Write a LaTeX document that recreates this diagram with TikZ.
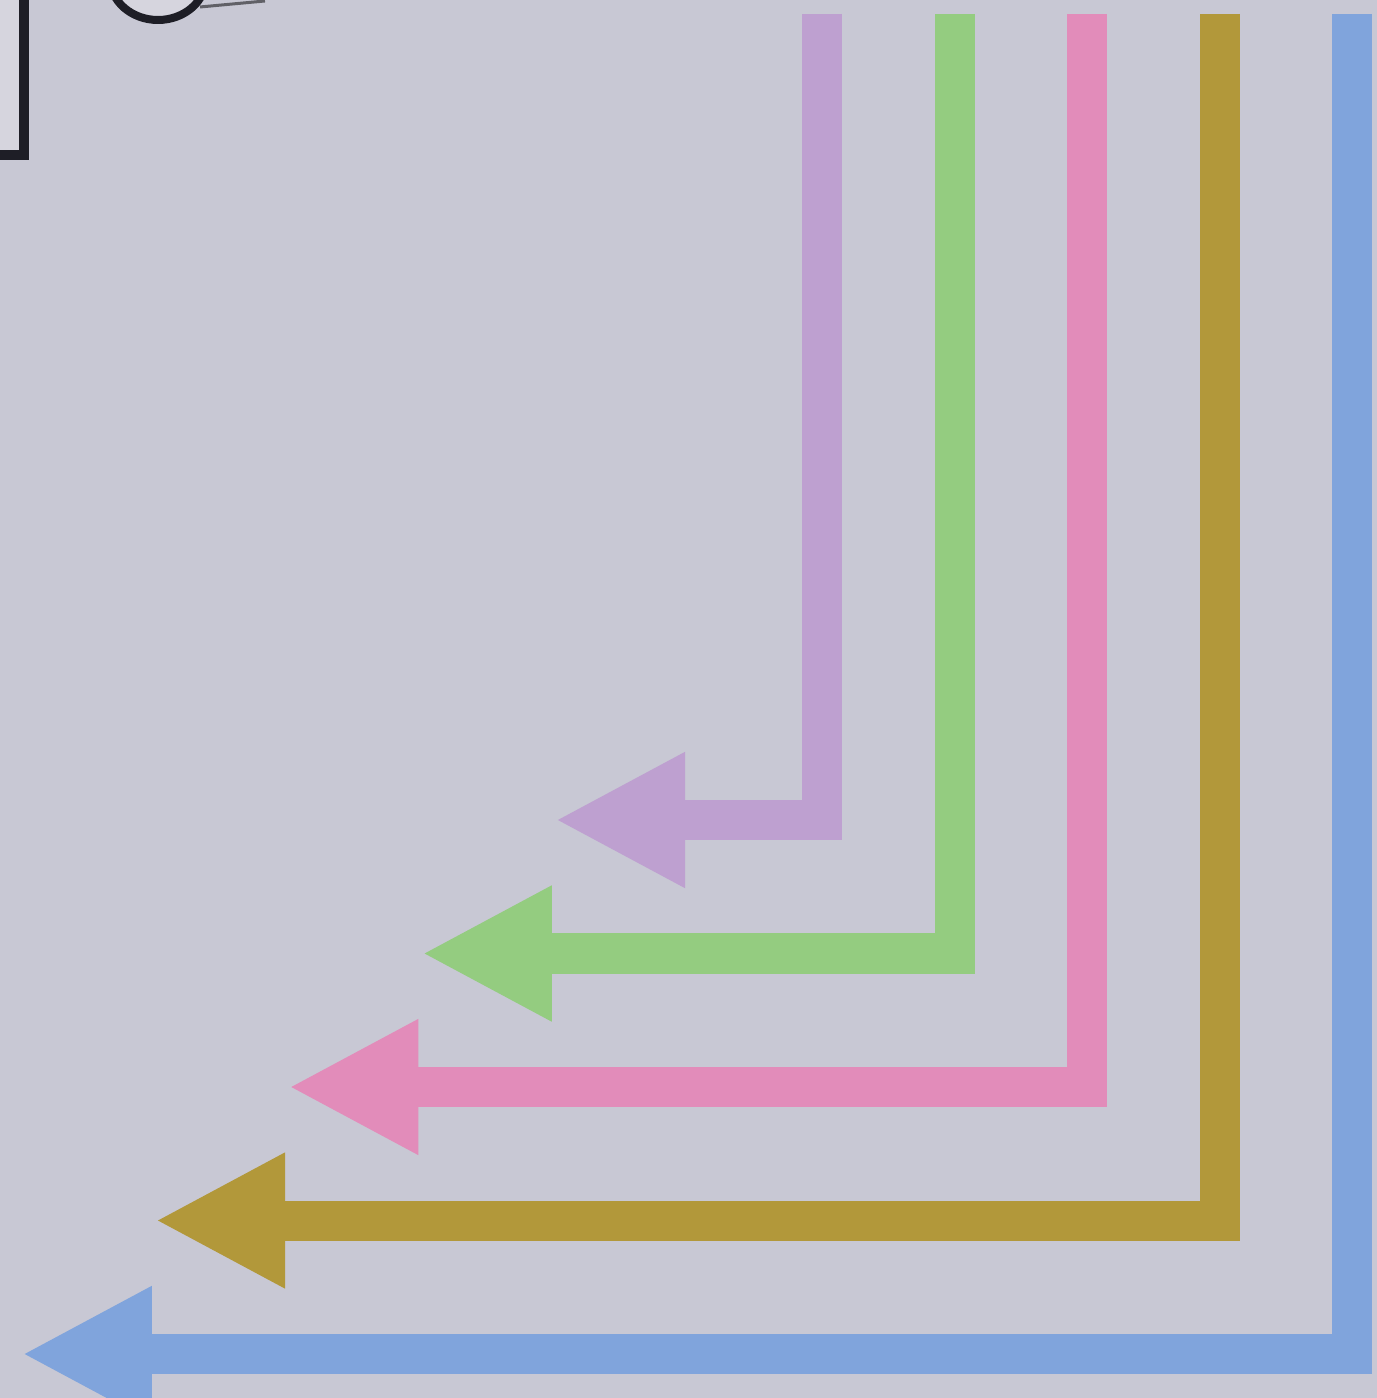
\documentclass[tikz,border=0pt]{standalone}
\usetikzlibrary{arrows.meta}
\definecolor{bgpaper}{RGB}{200,200,212}
\definecolor{lightpaper}{RGB}{214,213,222}
\definecolor{inkline}{RGB}{30,30,38}
\definecolor{arrlilac}{RGB}{190,160,208}
\definecolor{arrgreen}{RGB}{148,204,128}
\definecolor{arrpink}{RGB}{226,140,186}
\definecolor{arrolive}{RGB}{178,152,58}
\definecolor{arrblue}{RGB}{128,164,220}

\begin{document}
\begin{tikzpicture}[x=0.01cm, y=-0.01cm,
    flow/.style={line width=0.4cm, -{Triangle[length=1.3cm,width=1.26cm]}}]
        \fill[bgpaper] (0,0) rectangle (1377,1398);
        \useasboundingbox (0,0) rectangle (1377,1398);
        % bits cut off at the top left
        \begin{scope}
          \clip (0,0) rectangle (1377,1398);
          \draw[draw=inkline, fill=lightpaper, line width=0.1cm]
            (-100,-100) rectangle (24,155);
          \draw[draw=inkline!70, line width=0.03cm] (200,7) -- (265,1);
          \draw[draw=inkline, fill=lightpaper, line width=0.08cm]
            (158,-22) ellipse (48 and 42);
        \end{scope}
        % nested arrows
        \foreach \c [count=\i from 0] in {arrlilac,arrgreen,arrpink,arrolive,arrblue} {
          \coordinate (top\i) at (822+132.5*\i, 14);
          \coordinate (bend\i) at (822+132.5*\i, 820+133.5*\i);
          \coordinate (tip\i) at (555-133.3*\i, 820+133.5*\i);
          \draw[flow, draw=\c] (top\i) -- (bend\i) -- (tip\i);
        }
      \end{tikzpicture}
\end{document}
